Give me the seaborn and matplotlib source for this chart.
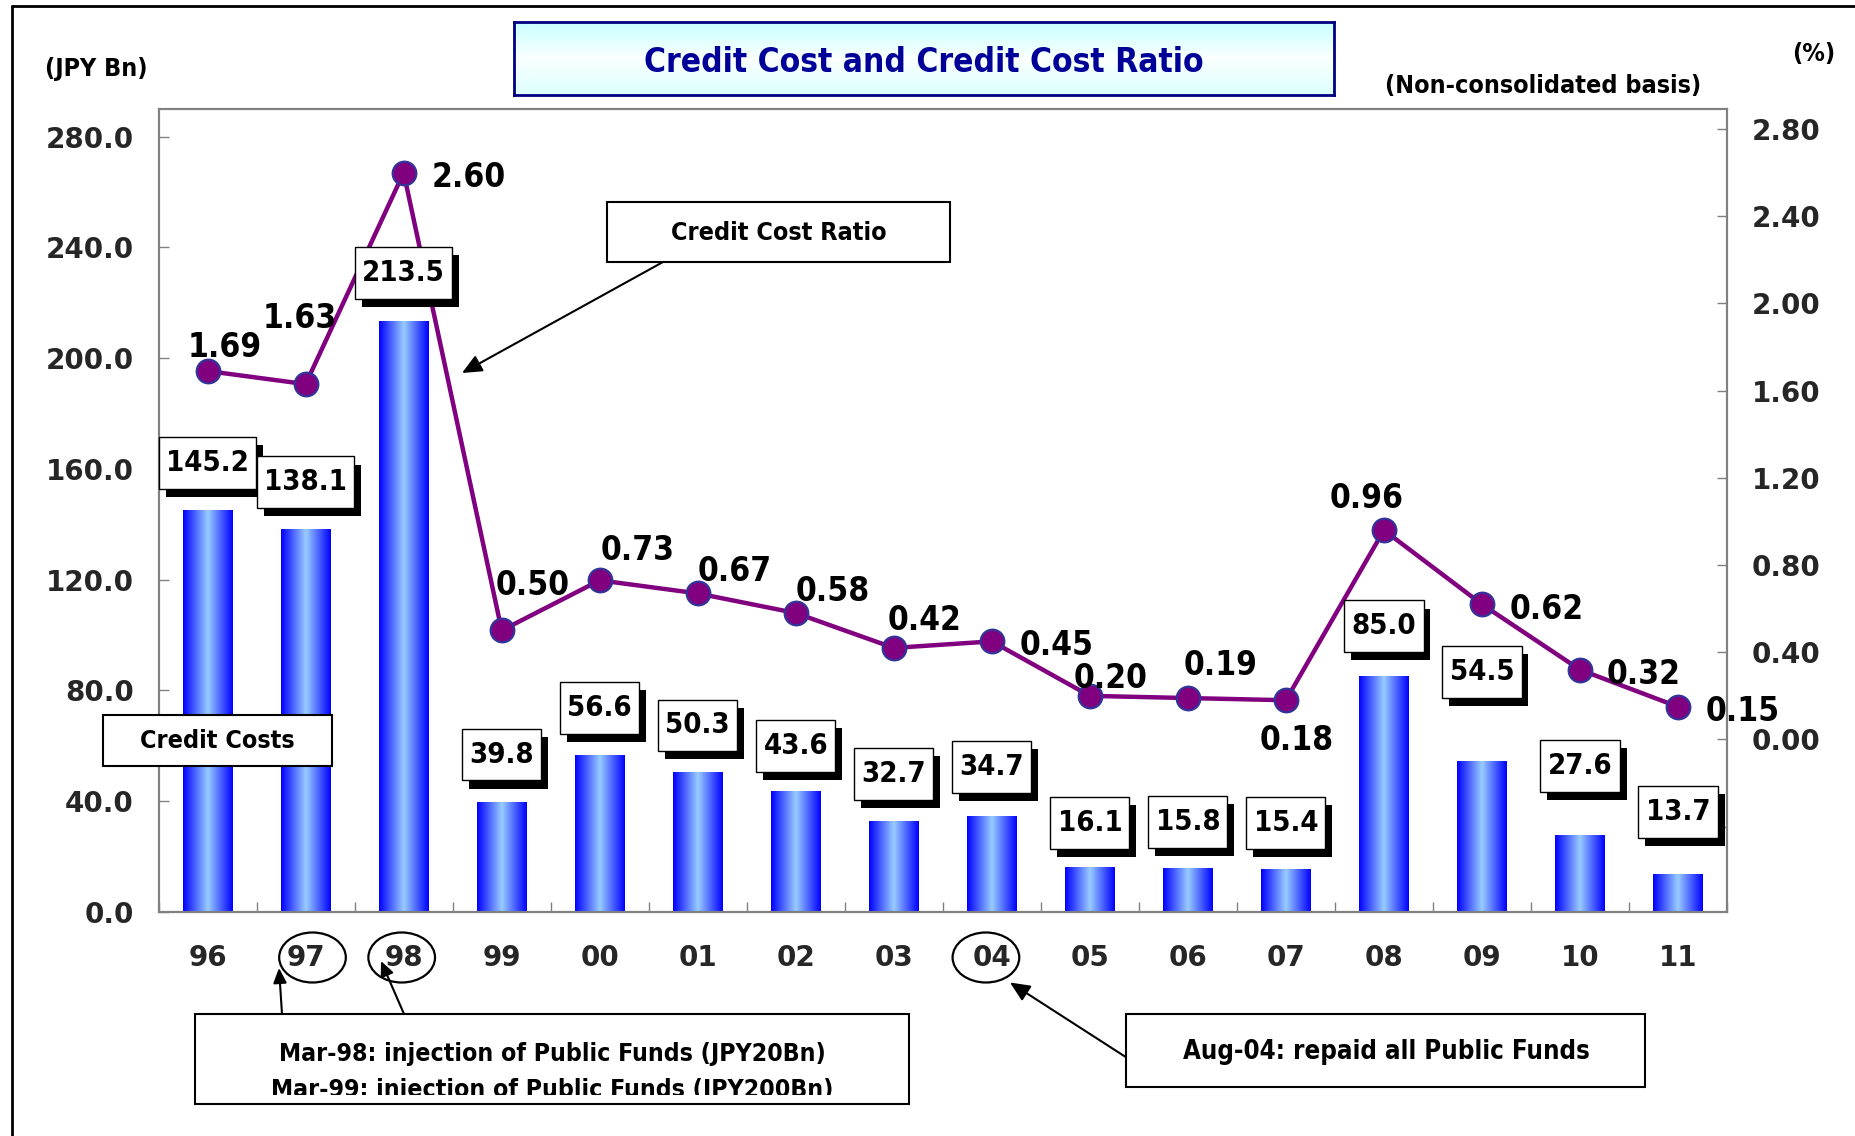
import numpy as np
import matplotlib
matplotlib.use("Agg")
import matplotlib.pyplot as plt
import matplotlib.transforms as mtransforms
import matplotlib.patheffects as pe
from matplotlib import font_manager
from matplotlib.colors import LinearSegmentedColormap
from matplotlib.patches import Rectangle, Ellipse, FancyArrowPatch
from matplotlib.path import Path
from matplotlib.lines import Line2D
import seaborn as sns

# --- values ---
years = ['96', '97', '98', '99', '00', '01', '02', '03',
         '04', '05', '06', '07', '08', '09', '10', '11']
credit_costs = [145.2, 138.1, 213.5, 39.8, 56.6, 50.3, 43.6, 32.7,
                34.7, 16.1, 15.8, 15.4, 85.0, 54.5, 27.6, 13.7]
cost_ratio = [1.69, 1.63, 2.60, 0.50, 0.73, 0.67, 0.58, 0.42,
              0.45, 0.20, 0.19, 0.18, 0.96, 0.62, 0.32, 0.15]
left_ticks = [0, 40, 80, 120, 160, 200, 240, 280]
right_ticks = [-0.4, 0.0, 0.4, 0.8, 1.2, 1.6, 2.0, 2.4, 2.8]
circled_years = ['97', '98', '04']

title = 'Credit Cost and Credit Cost Ratio'
note_public_funds = ['Mar-98: injection of Public Funds (JPY20Bn)',
                     'Mar-99: injection of Public Funds (JPY200Bn)']
note_repaid = 'Aug-04: repaid all Public Funds'

# --- label placement (pixels: right, down) ---
ratio_label_offsets = [(17, -24), (-6, -66), (65, 5), (31, -45), (38, -30), (37, -22),
                       (37, -22), (31, -27), (65, 4), (21, -17), (33, -33), (11, 40),
                       (-17, -32), (65, 5), (64, 5), (65, 5)]
bar_label_lift = [47, 47, 48, 47, 47, 47, 45, 47, 49, 44, 46, 46, 50, 89, 69, 62]
circle_shift = [0.07, -0.02, -0.06]

W, H, DPI = 1856, 1136, 100
PT = 72 / DPI

sns.set_theme(style='white')
plt.rcParams['font.family'] = ['DejaVu Sans']

cond_ok = any('DejaVuSansCondensed-Bold' in f.fname for f in font_manager.fontManager.ttflist)
STRETCH = 'condensed' if cond_ok else 'normal'
SC = 1.0 if cond_ok else 0.9

PURPLE = '#800080'
GRAY = '#808080'


def fx(px):
    return px / W


def fy(py):
    return 1 - py / H


def label_box(x0, y0, width, height, mutation_size):
    # value box: more room above/below the number than beside it
    px, py = 0.25 * mutation_size, 0.41 * mutation_size
    verts = [(x0 - px, y0 - py), (x0 + width + px, y0 - py),
             (x0 + width + px, y0 + height + py), (x0 - px, y0 + height + py),
             (x0 - px, y0 - py)]
    return Path(verts, closed=True)


fig = plt.figure(figsize=(W / DPI, H / DPI), dpi=DPI)
fig.patch.set_facecolor('white')

ax = fig.add_axes([fx(158.6), fy(911.7), fx(1727) - fx(158.6), fy(109) - fy(911.7)])
ax.set_facecolor('white')

# bars with horizontal blue gradient
sns.barplot(x=years, y=credit_costs, color='#0000ff', width=0.5, saturation=1,
            linewidth=0, ax=ax)
grad = np.linspace(0, 1, 256).reshape(1, -1)
bar_cmap = LinearSegmentedColormap.from_list('bar', ['#0000ff', '#99ccff', '#0000ff'])
for bar in list(ax.patches):
    x0, y0 = bar.get_x(), bar.get_y()
    im = ax.imshow(grad, extent=(x0, x0 + bar.get_width(), y0, y0 + bar.get_height()),
                   cmap=bar_cmap, aspect='auto', zorder=bar.get_zorder() + 0.1)
    im.set_clip_path(bar)

ax.set_xlim(-0.5, len(years) - 0.5)
ax.set_ylim(0, 290)
ax.set_yticks(left_ticks)
ax.set_yticklabels([f'{t:.1f}' for t in left_ticks])
ax.set_xticks(range(len(years)))
ax.set_xticklabels(years)
ax.set_xticks(np.arange(len(years) + 1) - 0.5, minor=True)
ax.tick_params(axis='y', direction='in', length=7, width=1, color=GRAY, pad=18,
               labelsize=20, left=True)
ax.tick_params(axis='x', which='major', length=0, pad=23, labelsize=20)
ax.tick_params(axis='x', which='minor', direction='in', length=7, width=1, color=GRAY,
               bottom=True)
for lab in ax.get_xticklabels() + ax.get_yticklabels():
    lab.set_fontweight('bold')
ax.set_xlabel('')
ax.set_ylabel('')

# credit cost ratio line
ax2 = ax.twinx()
sns.lineplot(x=np.arange(len(years)), y=cost_ratio, ax=ax2, color=PURPLE, linewidth=3.2,
             marker='o', markersize=17, markerfacecolor=PURPLE,
             markeredgecolor='#333399', markeredgewidth=1.6)
ax2.set_xlim(-0.5, len(years) - 0.5)
ax2.set_ylim(-0.79, 2.892)
ax2.set_yticks(right_ticks)
ax2.set_yticklabels([f'{t:.2f}' if t >= 0 else '' for t in right_ticks])
ax2.tick_params(axis='y', direction='in', length=7, width=1, color=GRAY, pad=18,
                labelsize=20, right=True)
for lab in ax2.get_yticklabels():
    lab.set_fontweight('bold')
ax2.set_ylabel('')
ax2.set_xlabel('')

for a in (ax, ax2):
    for sp in a.spines.values():
        sp.set_color(GRAY)
        sp.set_linewidth(1.5)
        sp.set_visible(True)

# ratio labels
for i, (r, (dx, dy)) in enumerate(zip(cost_ratio, ratio_label_offsets)):
    ax2.annotate(f'{r:.2f}', xy=(i, r), xytext=(dx * PT, -dy * PT), textcoords='offset points',
                 ha='center', va='center', fontsize=24 * SC, fontweight='bold',
                 fontstretch=STRETCH, color='black', zorder=10, annotation_clip=False)

# bar value boxes with drop shadow
for i, (v, lift) in enumerate(zip(credit_costs, bar_label_lift)):
    ann = ax2.annotate(f'{v:.1f}', xy=(i, v), xycoords=ax.transData,
                       xytext=(0, lift * PT), textcoords='offset points',
                       ha='center', va='center', fontsize=21 * SC, fontweight='bold',
                       fontstretch=STRETCH, color='black', annotation_clip=False,
                       bbox=dict(boxstyle=label_box, fc='white', ec='black', lw=1),
                       zorder=9)
    ann.get_bbox_patch().set_path_effects([
        pe.SimplePatchShadow(offset=(5, -5.8), shadow_rgbFace='black', alpha=1.0),
        pe.Normal()])

txt = dict(fontweight='bold', fontstretch=STRETCH, color='black')


def box(x0, y0, x1, y1, lw=1.5):
    r = Rectangle((fx(x0), fy(y1)), fx(x1) - fx(x0), fy(y0) - fy(y1),
                  transform=fig.transFigure, facecolor='white', edgecolor='black',
                  lw=lw, zorder=4)
    fig.add_artist(r)
    return r


def arrow(x0, y0, x1, y1, scale=12):
    fig.add_artist(FancyArrowPatch((fx(x0), fy(y0)), (fx(x1), fy(y1)),
                                   arrowstyle='-|>,head_length=1.0,head_width=0.45',
                                   mutation_scale=scale, lw=1.5, color='black',
                                   shrinkA=0, shrinkB=0, transform=fig.transFigure,
                                   zorder=5))


# title box with soft cyan gradient
tax = fig.add_axes([fx(514), fy(95), fx(1334) - fx(514), (95 - 22) / H])
vgrad = np.linspace(0, 1, 256).reshape(-1, 1)
title_cmap = LinearSegmentedColormap.from_list('ttl', ['#c8ffff', '#fbffff', '#dcffff'])
tax.imshow(vgrad, extent=(0, 1, 0, 1), aspect='auto', cmap=title_cmap)
tax.set_xticks([])
tax.set_yticks([])
for sp in tax.spines.values():
    sp.set_color('#000080')
    sp.set_linewidth(2)
tax.text(0.5, 0.45, title, transform=tax.transAxes, ha='center', va='center',
         fontsize=24 * SC, fontweight='bold', fontstretch=STRETCH, color='#000099')

# unit labels
fig.text(fx(45), fy(69), '(JPY Bn)', ha='left', va='center', fontsize=18 * SC, **txt)
fig.text(fx(1814), fy(54), '(%)', ha='center', va='center', fontsize=18 * SC, **txt)
fig.text(fx(1543), fy(86), '(Non-consolidated basis)', ha='center', va='center',
         fontsize=18 * SC, **txt)

# series callouts
box(607, 202, 950.5, 262)
fig.text(fx(779), fy(233), 'Credit Cost Ratio', ha='center', va='center',
         fontsize=18 * SC, zorder=6, **txt)
arrow(663, 262, 462, 373)

box(103, 715, 331.5, 766)
fig.text(fx(217), fy(741), 'Credit Costs', ha='center', va='center',
         fontsize=18 * SC, zorder=6, **txt)

# circled fiscal years
blend = mtransforms.blended_transform_factory(ax.transData, fig.transFigure)
for yr, dx in zip(circled_years, circle_shift):
    fig.add_artist(Ellipse((years.index(yr) + dx, fy(957.5)), width=0.68, height=50 / H,
                           transform=blend, fill=False, ec='black', lw=1.6, zorder=5))

# public funds notes
pf_box = box(195, 1014, 909, 1104)
clip = Rectangle((fx(195), fy(1095)), fx(909) - fx(195), fy(1014) - fy(1095),
                 transform=fig.transFigure, visible=False)
fig.add_artist(clip)
for line, base in zip(note_public_funds, [1061, 1097]):
    t = fig.text(fx(552), fy(base), line, ha='center', va='baseline',
                 fontsize=17.8 * SC, zorder=6, **txt)
    t.set_clip_path(clip)
arrow(282, 1014, 279, 968, scale=9)
arrow(404, 1014, 381, 961, scale=9)

box(1125.7, 1014, 1645.4, 1086.6)
fig.text(fx(1386), fy(1052), note_repaid, ha='center', va='center',
         fontsize=18.5 * SC, zorder=6, **txt)
arrow(1125.7, 1057, 1010, 982.5)

# outer frame (top and left edges visible)
fig.add_artist(Line2D([fx(12), 1], [fy(6), fy(6)], color='black', lw=2, transform=fig.transFigure))
fig.add_artist(Line2D([fx(12), fx(12)], [fy(6), 0], color='black', lw=2, transform=fig.transFigure))

fig.savefig('out.png', dpi=DPI)
